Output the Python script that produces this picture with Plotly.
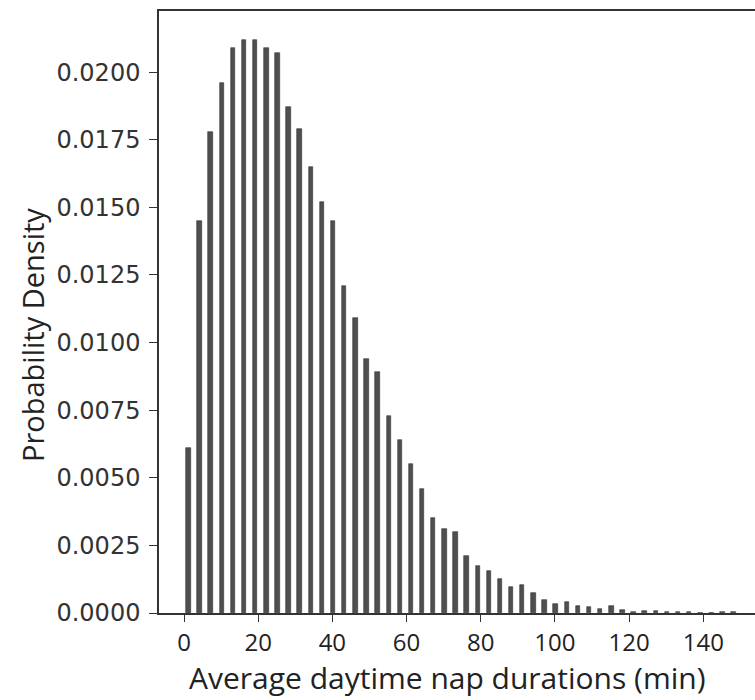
import plotly.graph_objects as go

# Bin centres (minutes) and probability densities
bin_centers = [1.2, 4.2, 7.2, 10.2, 13.2, 16.2, 19.2, 22.2, 25.2, 28.2,
               31.2, 34.2, 37.2, 40.2, 43.2, 46.2, 49.2, 52.2, 55.2, 58.2,
               61.2, 64.2, 67.2, 70.2, 73.2, 76.2, 79.2, 82.2, 85.2, 88.2,
               91.2, 94.2, 97.2, 100.2, 103.2, 106.2, 109.2, 112.2, 115.2, 118.2,
               121.2, 124.2, 127.2, 130.2, 133.2, 136.2, 139.2, 142.2, 145.2, 148.2]
density = [0.0061, 0.0145, 0.0178, 0.0196, 0.0209, 0.0212, 0.0212, 0.0209, 0.0207, 0.0187,
           0.0179, 0.0165, 0.0152, 0.0145, 0.0121, 0.0109, 0.0094, 0.0089, 0.0073, 0.0064,
           0.0055, 0.0046, 0.0035, 0.0031, 0.0030, 0.0021, 0.00175, 0.00155, 0.00127, 0.00097,
           0.00102, 0.00073, 0.00049, 0.00034, 0.00040, 0.00026, 0.00021, 0.00016, 0.00026, 0.00011,
           0.00003, 0.00006, 0.00006, 0.00004, 0.00003, 0.00003, 0.0, 0.0, 0.00003, 0.00003]

x_ticks = [0, 20, 40, 60, 80, 100, 120, 140]
y_ticks = [0.0, 0.0025, 0.005, 0.0075, 0.01, 0.0125, 0.015, 0.0175, 0.02]
x_title = "Average daytime nap durations (min)"
y_title = "Probability Density"

fig = go.Figure(go.Bar(
    x=bin_centers, y=density, width=1.2,
    marker=dict(color="#4f4f4f", line=dict(color="#333333", width=0.6)),
))

fig.update_layout(
    width=755, height=700,
    margin=dict(l=159, r=0, t=11, b=87),
    paper_bgcolor="white", plot_bgcolor="white",
    showlegend=False,
    bargap=0,
    annotations=[
        dict(text=x_title, xref="paper", yref="paper", x=0.484, y=-0.107,
             xanchor="center", yanchor="middle", showarrow=False,
             font=dict(family="Open Sans", size=30, color="#222222")),
        dict(text=y_title, xref="paper", yref="paper", x=-0.2114, y=0.4618,
             xanchor="center", yanchor="middle", showarrow=False, textangle=-90,
             font=dict(family="Open Sans", size=29, color="#222222")),
    ],
)
fig.update_xaxes(
    range=[-6.74, 153.95],
    tickmode="array", tickvals=x_ticks,
    ticks="outside", ticklen=7, tickwidth=1.2, tickcolor="#333333",
    showline=True, linecolor="#333333", linewidth=1.5, mirror=True,
    showgrid=False, zeroline=False,
    tickfont=dict(family="Open Sans", size=24, color="#222222"),
)
fig.update_yaxes(
    range=[0, 0.02226],
    tickmode="array", tickvals=y_ticks, tickformat=".4f",
    ticks="outside", ticklen=8, tickwidth=1.2, tickcolor="#333333",
    ticklabelstandoff=4,
    showline=True, linecolor="#333333", linewidth=1.5, mirror=False,
    showgrid=False, zeroline=False,
    tickfont=dict(family="DejaVu Sans", size=24, color="#333333"),
)

fig.write_html("out.html")
